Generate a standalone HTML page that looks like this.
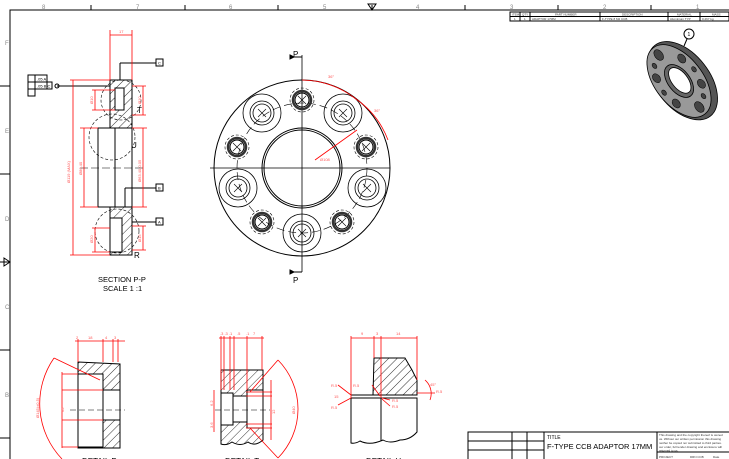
<!DOCTYPE html>
<html><head><meta charset="utf-8"><style>
html,body{margin:0;padding:0;background:#fff;width:729px;height:459px;overflow:hidden}
svg{display:block;font-family:"Liberation Sans",sans-serif}
.k{stroke:#000;fill:none;stroke-width:1}
.r{stroke:#f00;fill:none;stroke-width:0.8}
.rt{fill:#f55;font-size:4px}
.g{fill:#888;font-size:6px}
</style></head><body>
<svg width="729" height="459" viewBox="0 0 729 459" xmlns="http://www.w3.org/2000/svg">
<defs>
<pattern id="h" width="6" height="6" patternUnits="userSpaceOnUse" patternTransform="rotate(45)"><line x1="0" y1="0" x2="0" y2="6" stroke="#000" stroke-width="0.8"/></pattern>
<g id="bh" fill="none" stroke="#000" stroke-width="0.8"><circle r="19"/><circle r="12"/><circle r="9"/><path d="M-4 -4L4 4M-4 4L4 -4" stroke-width="0.6"/></g>
<g id="sh" fill="none" stroke="#000"><circle r="12" stroke-dasharray="3 2" stroke-width="0.6"/><circle r="9" stroke-width="2.5" stroke="#333"/><circle r="7"/><path d="M-4 -4L4 4M-4 4L4 -4" stroke-width="0.6"/></g>
</defs>
<!-- frame -->
<path class="k" d="M10 459 V10 H729" stroke-width="1.2"/>
<g class="k">
<path d="M91 5V10M185 5V10M278 5V10M372 5V10M465 5V10M558 5V10M651 5V10"/>
<path d="M0 86H10M0 174H10M0 262H10M0 350H10M0 438H10"/>
</g>
<path d="M368 4 L376 4 L372 10Z" class="k"/>
<path d="M4 258 L10 262 L4 266Z M0 262H4" class="k"/>
<g class="g"><text x="42" y="9">8</text><text x="136" y="9">7</text><text x="229" y="9">6</text><text x="323" y="9">5</text><text x="416" y="9">4</text><text x="510" y="9">3</text><text x="603" y="9">2</text><text x="696" y="9">1</text>
<text x="5" y="45">F</text><text x="5" y="133">E</text><text x="5" y="221">D</text><text x="5" y="309">C</text><text x="5" y="397">B</text></g>

<!-- parts list -->
<g class="k" stroke-width="0.6">
<rect x="510" y="12" width="219" height="9"/><line x1="510" y1="16.5" x2="729" y2="16.5"/>
<path d="M520 12V21M530 12V21M600 12V21M668 12V21M700 12V21"/>
</g>
<g style="font-size:3px" fill="#333"><text x="512" y="15.5">ITEM</text><text x="522" y="15.5">QTY</text><text x="555" y="15.5">PART NUMBER</text><text x="622" y="15.5">DESCRIPTION</text><text x="677" y="15.5">MATERIAL</text><text x="712" y="15.5">MASS</text>
<text x="514" y="20">1</text><text x="524" y="20">1</text><text x="532" y="20">ADAPTOR 17MM</text><text x="602" y="20">F-TYPE 8 M2 CCB</text><text x="670" y="20">Aluminium TYP</text><text x="702" y="20">0.267 kg</text></g>

<!-- iso view -->
<g transform="translate(679,81) rotate(-38)">
<ellipse cx="3" cy="2" rx="27" ry="45" fill="#555" stroke="#000" stroke-width="0.8"/>
<ellipse cx="0" cy="0" rx="24" ry="42" fill="#999" stroke="#000" stroke-width="0.8"/>
<ellipse cx="0" cy="0" rx="11" ry="19" fill="#666" stroke="#000" stroke-width="0.8"/>
<ellipse cx="1" cy="0" rx="8" ry="15" fill="#fff" stroke="#000" stroke-width="0.8"/>
<g fill="#444" stroke="#000" stroke-width="0.5">
<ellipse cx="0" cy="-33" rx="4" ry="6"/><ellipse cx="0" cy="33" rx="4" ry="6"/>
<ellipse cx="-16" cy="-16" rx="3.5" ry="5"/><ellipse cx="16" cy="-16" rx="3.5" ry="5"/>
<ellipse cx="-16" cy="16" rx="3.5" ry="5"/><ellipse cx="16" cy="16" rx="3.5" ry="5"/>
<ellipse cx="-19" cy="0" rx="2" ry="3"/><ellipse cx="19" cy="0" rx="2" ry="3"/>
<ellipse cx="-10" cy="-27" rx="2" ry="3"/><ellipse cx="10" cy="27" rx="2" ry="3"/>
</g></g>
<circle cx="689" cy="34" r="5" fill="#fff" class="k" stroke-width="0.6"/><text x="687.5" y="36" style="font-size:5px">1</text>
<line x1="687" y1="39" x2="684" y2="46" class="k" stroke-width="0.6"/>

<!-- front view -->
<g class="k">
<circle cx="302" cy="168" r="88"/>
<circle cx="302" cy="168" r="40"/><circle cx="302" cy="168" r="38"/>
<circle cx="302" cy="168" r="65" stroke-dasharray="8 4" stroke-width="0.6"/>
<path d="M210 168H390M302 55V272" stroke-width="0.8"/>
</g>
<g class="k" stroke-width="0.8">
<path d="M302 57 H290 M302 272 H290"/><path d="M290 55 L294 57 L290 59Z M290 270 L294 272 L290 274Z" fill="#000"/>
</g>
<text x="293" y="57" style="font-size:8px">P</text><text x="293" y="283" style="font-size:8px">P</text>
<use href="#bh" x="262" y="113"/><use href="#bh" x="343" y="113"/><use href="#bh" x="238" y="188"/><use href="#bh" x="367" y="188"/><use href="#bh" x="302" y="233"/>
<use href="#sh" x="302" y="100"/><use href="#sh" x="237" y="147"/><use href="#sh" x="366" y="147"/><use href="#sh" x="262" y="222"/><use href="#sh" x="342" y="222"/>
<g class="r"><path d="M302 80 A88 88 0 0 1 356 99 A88 88 0 0 1 388 140"/><path d="M357 130 L315 160"/></g>
<text class="rt" x="328" y="78">36°</text><text class="rt" x="374" y="112">36°</text><text class="rt" x="320" y="161">Ø108</text>

<!-- section P-P -->
<g class="k">
<rect x="110" y="80" width="22" height="48" fill="url(#h)"/>
<rect x="115" y="88" width="9" height="22" fill="#fff"/>
<rect x="98" y="128" width="34" height="79" fill="#fff"/>
<line x1="115" y1="128" x2="115" y2="207"/>
<rect x="110" y="207" width="22" height="48" fill="url(#h)"/>
<rect x="110" y="218" width="12" height="34" fill="#fff"/>
<path d="M80 168H145" stroke-dasharray="8 3" stroke-width="0.6"/>
<circle cx="121" cy="100" r="20" stroke-dasharray="3 2" stroke-width="0.6"/>
<circle cx="112" cy="137" r="23" stroke-dasharray="3 2" stroke-width="0.6"/>
<circle cx="117" cy="231" r="22" stroke-dasharray="3 2" stroke-width="0.6"/>
<path d="M120 63H156M120 63V80M125 188H156M125 188V207M132 222H156M57 86H110"/>
</g>
<g class="k" stroke-width="0.7" fill="#fff">
<rect x="156" y="59" width="7" height="7"/><rect x="156" y="184" width="7" height="7"/><rect x="156" y="218" width="7" height="7"/>
<rect x="28" y="75" width="7" height="7"/><rect x="35" y="75" width="12" height="7"/><rect x="28" y="82" width="7" height="7"/><rect x="35" y="82" width="12" height="7"/><rect x="47" y="82" width="5" height="7"/><rect x="28" y="89" width="7" height="7"/>
<circle cx="57" cy="86" r="2"/>
</g>
<g style="font-size:4px"><text x="158" y="64.5">C</text><text x="158" y="189.5">B</text><text x="158" y="223.5">A</text><text x="37" y="80.5">.05 A</text><text x="37" y="87.5">.05 B C</text></g>
<g style="font-size:8px"><text x="137" y="113">T</text><text x="131" y="148">U</text><text x="134" y="258">R</text></g>
<g class="r">
<path d="M110 30V80M132 30V80M110 35H132"/>
<path d="M73 80V255M70 80H110M70 255H110"/>
<path d="M84 128V207M80 128H98M80 207H98"/>
<path d="M143 128V207M132 128H147M132 207H147"/>
<path d="M95 90V110M92 90H115M92 110H115"/>
<path d="M143 86V115M132 86H146M132 115H146"/>
<path d="M95 228V252M92 228H110M92 252H110"/>
<path d="M143 226V250M132 226H146M132 250H146"/>
</g>
<g class="rt" font-size="4"><text x="119" y="33">17</text>
<text transform="translate(70,183) rotate(-90)">Ø119 (MAX)</text>
<text transform="translate(82,175) rotate(-90)">Ø80.40</text>
<text transform="translate(141,182) rotate(-90)">Ø63.40-0.05</text>
<text transform="translate(93,104) rotate(-90)">Ø10</text>
<text transform="translate(141,104) rotate(-90)">Ø10</text>
<text transform="translate(93,243) rotate(-90)">Ø20</text>
<text transform="translate(141,242) rotate(-90)">Ø15</text></g>
<text x="98" y="282" style="font-size:7.5px">SECTION P-P</text>
<text x="103" y="291" style="font-size:7.5px">SCALE 1 :1</text>

<!-- detail P -->
<g class="k">
<path d="M78 362 L120 364 V448 H78Z" fill="url(#h)"/>
<rect x="78" y="374" width="25" height="73" fill="#fff"/>
<rect x="103" y="390" width="17" height="30" fill="#fff"/>
<path d="M70 410H125" stroke-dasharray="6 3" stroke-width="0.6"/>
</g>
<g class="r">
<path d="M54 358 A80 80 0 0 0 62 459 M54 358 L100 380"/>
<path d="M78 339V362M103 339V362M113 339V362M118 339V362M75 341H125"/>
<path d="M62 372V448M62 390H103M62 420H103M62 374H78M62 447H78"/>
</g>
<g class="rt"><text x="76" y="339">2</text><text x="88" y="339">18</text><text x="105" y="339">4</text><text x="114" y="339">3</text>
<text transform="translate(39,418) rotate(-90)">Ø145(±0.5)</text><text transform="translate(64,412) rotate(-90)">65</text></g>
<text x="82" y="464" style="font-size:8px">DETAIL P</text>

<!-- detail T -->
<g class="k">
<path d="M221 370 H263 V440 Q255 447 248 442 Q240 447 232 442 Q226 446 221 444Z" fill="url(#h)"/>
<rect x="221" y="393" width="12" height="32" fill="#fff"/>
<rect x="233" y="396" width="14" height="26" fill="#fff"/>
<rect x="247" y="390" width="16" height="38" fill="#fff"/>
<path d="M215 410H270" stroke-dasharray="6 3" stroke-width="0.6"/>
</g>
<g class="r">
<path d="M278 360 A70 70 0 0 1 278 458 M278 360 L250 392 M278 458 L250 428"/>
<path d="M221 336V390M224 336V390M230 336V390M234 336V390M247 336V390M262 336V370M219 338H264"/>
<path d="M246 392H272M246 396H272M246 424H272M246 428H272M271 380V440"/>
<path d="M214 390V432"/>
</g>
<g class="rt"><text x="220" y="335">.3 .3 .1</text><text x="237" y="335">.5</text><text x="246" y="335">.1</text><text x="253" y="335">7</text>
<text transform="translate(295,414) rotate(-90)">Ø40</text><text transform="translate(275,414) rotate(-90)">12</text>
<text transform="translate(213,406) rotate(-90)">6.2</text><text transform="translate(213,428) rotate(-90)">3.6</text></g>
<text x="225" y="464" style="font-size:8px">DETAIL T</text>

<!-- detail U -->
<g class="k">
<path d="M351 395 H373 L374 358 H405 L412 370 L417 380 V395Z" fill="url(#h)"/>
<path d="M351 398 H417 V432 Q410 440 400 440 Q390 444 383 440 Q370 446 360 441 Q355 444 351 443Z"/>
<line x1="381" y1="398" x2="381" y2="441"/>
</g>
<g class="r">
<path d="M351 336V398M381 336V398M374 336V358M417 336V380M351 338H417"/>
<path d="M338 385L351 395M338 405L351 398M372 385L380 396M390 400L382 398M390 406L382 399"/>
<path d="M425 380 A18 18 0 0 1 430 400M417 393H435"/>
</g>
<g class="rt" font-size="4.5"><text x="361" y="335">9</text><text x="376" y="335">3</text><text x="396" y="335">14</text>
<text x="331" y="387">R.5</text><text x="331" y="409">R.5</text><text x="353" y="387">R.5</text><text x="392" y="402">R.5</text><text x="392" y="408">R.5</text><text x="436" y="393">R.5</text><text x="430" y="386">45°</text><text x="334" y="398">15</text></g>
<text x="366" y="464" style="font-size:8px">DETAIL U</text>

<!-- title block -->
<g class="k" stroke-width="0.8">
<rect x="468" y="432" width="262" height="28"/>
<path d="M512 432V459M527 432V459M544 432V459M657 432V459M468 441H544M468 450H544M657 452H729"/>
</g>
<text x="547" y="439" style="font-size:5px">TITLE</text>
<text x="547" y="449" style="font-size:7.5px">F-TYPE CCB ADAPTOR 17MM</text>
<g style="font-size:3px" fill="#333"><text x="659" y="436">This drawing and the copyright thereof is owned</text><text x="659" y="440">us. Without our written permission this drawing</text><text x="659" y="444">neither be copied nor submitted to third parties.</text><text x="659" y="448">our order, full tender drawing and enclosure will</text><text x="659" y="451.5">returned to us.</text><text x="659" y="458">PROJECT</text><text x="690" y="458">DRN CCB</text><text x="713" y="458">Date</text></g>
</svg>
</body></html>
